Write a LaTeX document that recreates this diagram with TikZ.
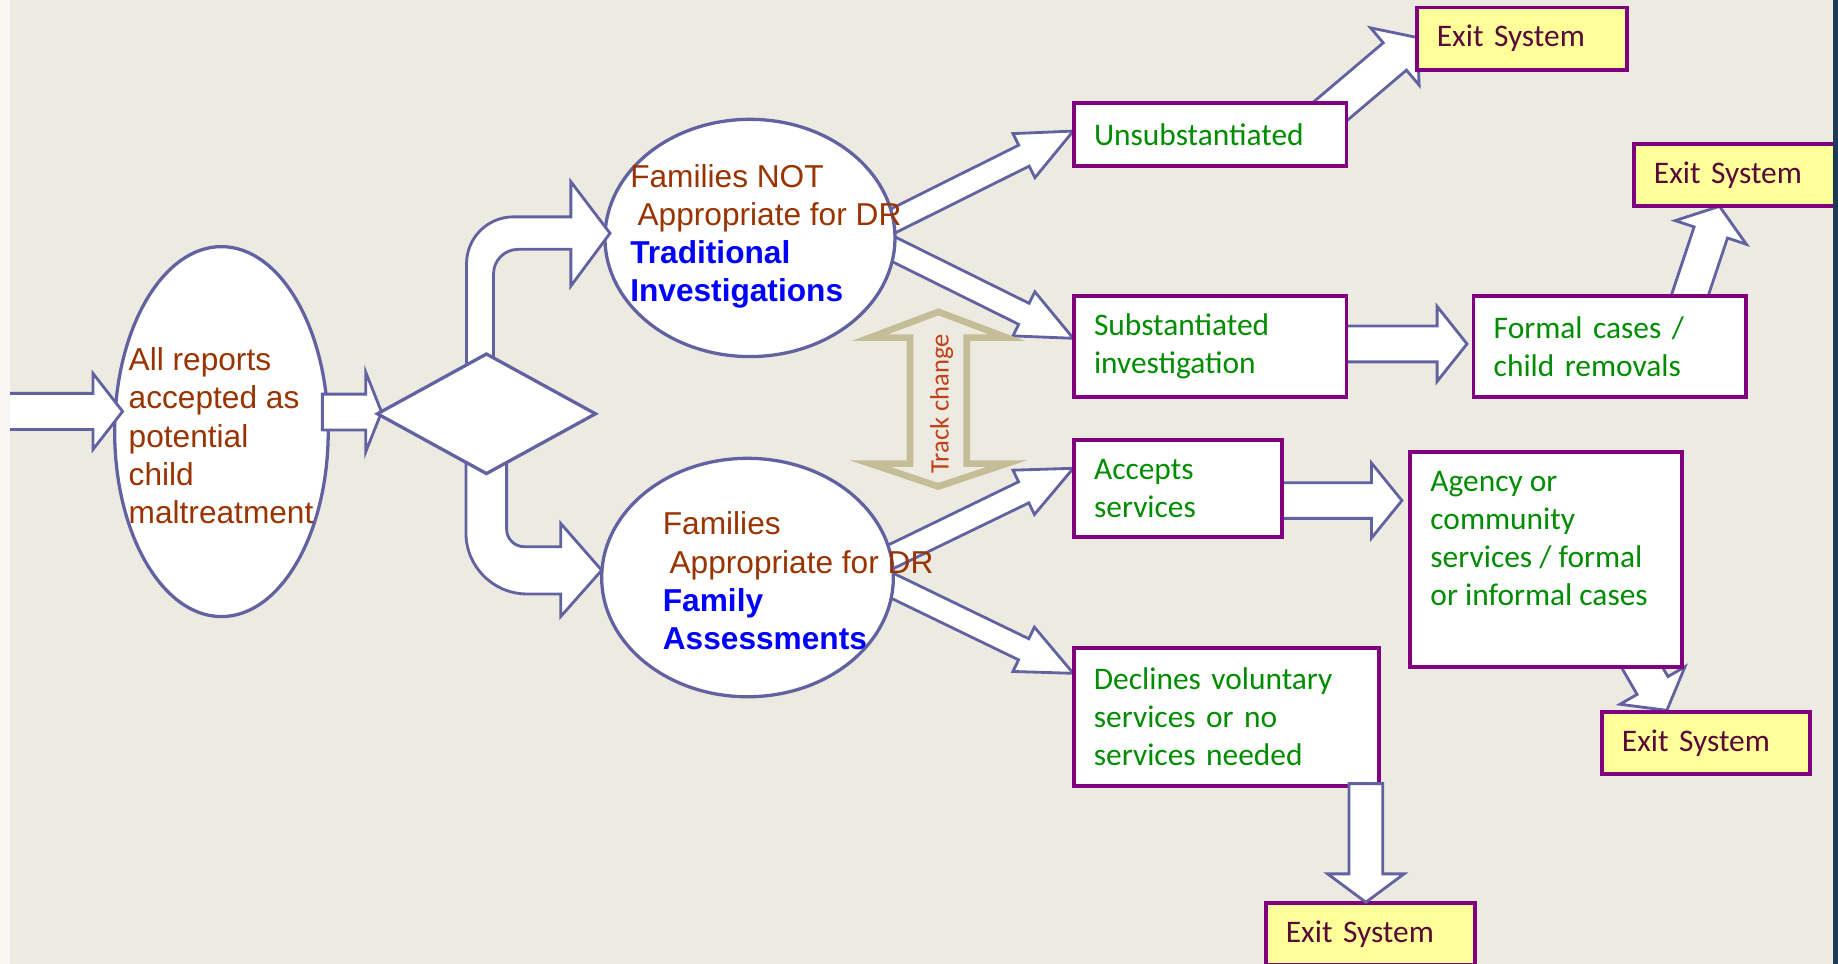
\documentclass[tikz,border=0pt]{standalone}
\usepackage{fontspec}
\setmainfont{Liberation Sans}
\newfontfamily\calibri{Carlito}
\usetikzlibrary{calc,shapes.geometric}

\definecolor{bgbeige}{RGB}{237,234,226}
\definecolor{edgewhite}{RGB}{247,246,243}
\definecolor{edgenavy}{RGB}{28,58,84}
\definecolor{slate}{RGB}{98,98,160}
\definecolor{boxpurple}{RGB}{128,0,128}
\definecolor{exityellow}{RGB}{255,255,153}
\definecolor{exittext}{RGB}{88,10,56}
\definecolor{boxgreen}{RGB}{0,140,0}
\definecolor{rust}{RGB}{153,51,0}
\definecolor{trackkhaki}{RGB}{196,189,151}
\definecolor{trackred}{RGB}{192,64,24}

% block arrow: [style] tail, tip, shaft half-width, head half-width, head length
\newcommand{\blockarrow}[6][]{%
  \coordinate (bahead) at ($(#3)!#6!(#2)$);
  \filldraw[arrowline,#1]
    ($(#2)!#4!90:(#3)$) -- ($(bahead)!#4!90:(#3)$) -- ($(bahead)!#5!90:(#3)$)
    -- (#3) -- ($(bahead)!#5!-90:(#3)$) -- ($(bahead)!#4!-90:(#3)$)
    -- ($(#2)!#4!-90:(#3)$) -- cycle;
}
\newcommand{\bluebold}[1]{\textcolor{blue}{\bfseries #1}}

\begin{document}
\begin{tikzpicture}[x=1pt,y=-1pt,
  arrowline/.style={draw=slate, fill=white, line width=2.4pt, line join=miter},
  bubble/.style={ellipse, draw=slate, fill=white, line width=2.8pt, inner sep=0pt, outer sep=0pt},
  bubbletext/.style={anchor=base west, align=left, inner sep=0pt, text=rust,
    font=\fontsize{27}{32.6}\selectfont},
  stepbox/.style={rectangle, draw=boxpurple, fill=white, line width=3.2pt, anchor=north west,
    outer sep=0pt, inner xsep=17pt, inner ysep=0pt, align=left, text=boxgreen,
    font=\calibri\fontsize{26.8}{32.6}\selectfont},
  exitbox/.style={stepbox, fill=exityellow, text=exittext},
  boxtext/.style={anchor=base west, align=left, inner sep=0pt, text=boxgreen,
    font=\calibri\fontsize{26.8}{32.6}\selectfont},
]
\useasboundingbox (0,0) rectangle (1568,822);
\clip (0,0) rectangle (1568,822);
\fill[bgbeige] (0,0) rectangle (1568,822);

% ---- arrow end points ----
\coordinate (unsubTail) at (748.5,195.1);   \coordinate (unsubTip) at (915.6,111.8);
\coordinate (substTail) at (747.1,205.1);   \coordinate (substTip) at (915.6,288.6);
\coordinate (acceptTail) at (744,482.7);    \coordinate (acceptTip) at (915.6,399.5);
\coordinate (declineTail) at (743.3,491);   \coordinate (declineTip) at (915.6,574.4);
\coordinate (exitATail) at (1124.6,103.6);  \coordinate (exitATip) at (1209,32);
\coordinate (formalTail) at (1140,293.4);   \coordinate (formalTip) at (1251.5,293.4);
\coordinate (exitBTail) at (1437.2,265.2);  \coordinate (exitBTip) at (1466.9,176);
\coordinate (agencyTail) at (1086,427);     \coordinate (agencyTip) at (1196,427);
\coordinate (exitCTail) at (1394.5,558.4);  \coordinate (exitCTip) at (1422,606);
\coordinate (exitDTail) at (1165.2,668.5);  \coordinate (exitDTip) at (1165.2,769.7);
\coordinate (inTail) at (2,351);            \coordinate (inTip) at (104.6,351);
\coordinate (toDecTail) at (275,351.5);     \coordinate (toDecTip) at (325.5,351.5);

% ---- arrows leaving the two track ellipses ----
\blockarrow{unsubTail}{unsubTip}{10pt}{21pt}{47pt}
\blockarrow{substTail}{substTip}{10pt}{21pt}{47pt}
\blockarrow{acceptTail}{acceptTip}{10pt}{21pt}{47pt}
\blockarrow{declineTail}{declineTip}{10pt}{21pt}{47pt}

% ---- arrows leaving outcome boxes ----
\blockarrow{exitATail}{exitATip}{15.3pt}{32pt}{25pt}
\blockarrow{formalTail}{formalTip}{15.3pt}{32pt}{25.5pt}
\blockarrow{exitBTail}{exitBTip}{15pt}{32pt}{23.5pt}
\blockarrow{agencyTail}{agencyTip}{15.2pt}{32pt}{26pt}
\blockarrow{exitCTail}{exitCTip}{15.2pt}{32pt}{24.5pt}

% ---- outcome boxes ----
\node[exitbox, minimum width=179.2pt, minimum height=53.4pt, text width=145pt] (exit1) at (1208.7,6.3) {Exit System};
\node[stepbox, minimum width=232.8pt, minimum height=53.3pt, text width=198pt] (unsub) at (915.9,88.1) {Unsubstantiated};
\node[exitbox, minimum width=179pt, minimum height=52.9pt, text width=145pt] (exit2) at (1394,122.8) {Exit System};
\node[stepbox, minimum width=232.8pt, minimum height=85.9pt, text width=198pt] (subst) at (915.9,252.5) {Substantiated\\investigation};
\node[stepbox, minimum width=232.4pt, minimum height=85.9pt, text width=198pt] (formal) at (1257.1,252.5) {Formal cases /\\child removals};
\node[stepbox, minimum width=177.9pt, minimum height=83.2pt, text width=143pt] (accepts) at (915.9,375.2) {Accepts\\services};
\node[stepbox, minimum width=232pt, minimum height=183.5pt] (agency) at (1203.1,385.5) {};
\node[boxtext] (agencyText) at (1220.1,516.8) {Agency or\\community\\services / formal\\or informal cases};
\node[stepbox, minimum width=260.6pt, minimum height=117.7pt, text width=226pt] (declines) at (915.9,552.8) {Declines voluntary\\services or no\\services needed};
\node[exitbox, minimum width=177.4pt, minimum height=52.6pt, text width=143pt] (exit3) at (1366.5,607.6) {Exit System};
\node[exitbox, minimum width=178pt, minimum height=53pt, text width=144pt] (exit4) at (1080,770.4) {Exit System};

\blockarrow{exitDTail}{exitDTip}{14.4pt}{32.6pt}{24.2pt}

% ---- ellipses ----
\node[bubble, minimum width=182.2pt, minimum height=315.6pt] (reports) at (188.9,368.2) {};
\node[bubble, minimum width=247.4pt, minimum height=202.4pt] (traditional) at (639.8,203) {};
\node[bubble, minimum width=248.8pt, minimum height=203.4pt] (assessment) at (637.7,492.7) {};

% ---- intake arrows ----
\blockarrow{inTail}{inTip}{15.4pt}{32.5pt}{25.3pt}
\blockarrow{toDecTail}{toDecTip}{15.3pt}{34pt}{13.5pt}

% bent arrow up to the traditional track
\filldraw[arrowline] (398,330) -- (398,225) .. controls (398,202.9) and (415.9,185) .. (438,185)
  -- (487,185) -- (487,155) -- (520.4,199) -- (487,244) -- (487,212.7) -- (442,212.7)
  .. controls (430.4,212.7) and (421,222.1) .. (421,233.7) -- (421,330) -- cycle;
% bent arrow down to the assessment track
\filldraw[arrowline] (397.5,380) -- (397.5,454.7) .. controls (397.5,483.4) and (420.8,506.7) .. (449.5,506.7)
  -- (478.3,506.7) -- (478.3,526) -- (513.3,486.5) -- (478.3,446.5) -- (478.3,466.4) -- (447.2,466.4)
  .. controls (438.9,466.4) and (432.2,459.7) .. (432.2,451.4) -- (432.2,380) -- cycle;

% ---- decision diamond ----
\node[diamond, draw=slate, fill=white, line width=2.8pt, inner sep=0pt, outer sep=0pt,
  minimum width=186pt, minimum height=102pt] (decision) at (415,353) {};

% ---- track change double arrow ----
\draw[trackkhaki, line width=5.7pt, line join=miter]
  (800.5,266) -- (858.8,288) -- (824.7,288) -- (824.7,395.5) -- (858.8,395.5) -- (800.5,415)
  -- (742.2,395.5) -- (776.3,395.5) -- (776.3,288) -- (742.2,288) -- cycle;
\node[rotate=90, inner sep=0pt, text=trackred, font=\calibri\fontsize{22.7}{27}\selectfont]
  (trackLabel) at (803.3,344.6) {Track change};

% ---- ellipse texts (anchored at the baseline of the last line) ----
\node[bubbletext] (reportsText) at (109.6,446.6) {All reports\\accepted as\\potential\\child\\maltreatment};
\node[bubbletext] (traditionalText) at (537.5,257.6) {Families NOT\\\hspace*{6.2pt}Appropriate for DR\\\bluebold{Traditional}\\\bluebold{Investigations}};
\node[bubbletext] (assessmentText) at (565.3,554.2) {Families\\\hspace*{5.7pt}Appropriate for DR\\\bluebold{Family}\\\bluebold{Assessments}};

% ---- frame edges ----
\fill[edgewhite] (0,0) rectangle (8.5,822);
\fill[edgenavy] (1563.7,0) rectangle (1568,822);
\end{tikzpicture}
\end{document}
